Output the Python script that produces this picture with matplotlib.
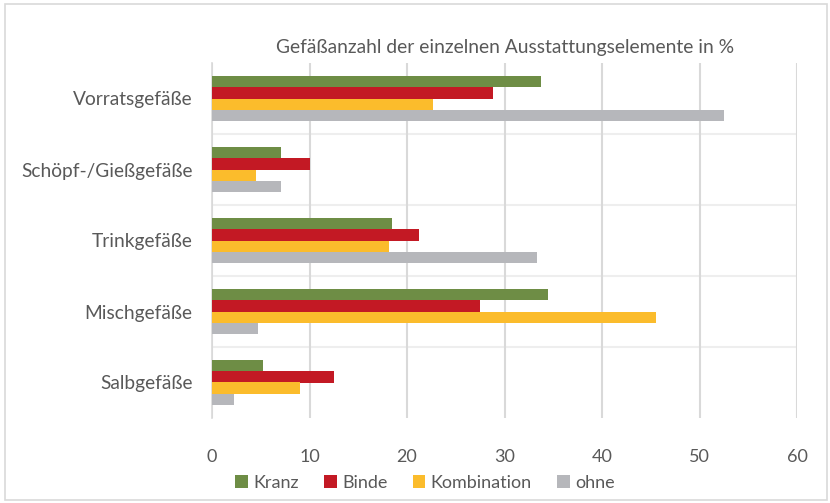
import matplotlib
matplotlib.use("Agg")
import numpy as np
import matplotlib.pyplot as plt
from matplotlib.patches import Rectangle

# data
categories = ["Vorratsgefäße", "Schöpf-/Gießgefäße", "Trinkgefäße", "Mischgefäße", "Salbgefäße"]
series_names = ["Kranz", "Binde", "Kombination", "ohne"]
kranz = [33.7, 7.05, 18.5, 34.5, 5.2]
binde = [28.8, 10.0, 21.2, 27.5, 12.5]
kombination = [22.7, 4.5, 18.2, 45.5, 9.0]
ohne = [52.5, 7.1, 33.3, 4.7, 2.3]
x_ticks = [0, 10, 20, 30, 40, 50, 60]
title = "Gefäßanzahl der einzelnen Ausstattungselemente in %"

colors = ["#6e8d45", "#c31924", "#fbbc2c", "#b6b7bb"]
text_col = "#595959"

plt.rcParams["font.family"] = ["Lato", "DejaVu Sans"]

fig = plt.figure(figsize=(8.30, 5.03), dpi=100)
ax = fig.add_axes([212 / 830, 1 - 418 / 503, (797 - 212) / 830, (418 - 63) / 503])

# figure frame
fig.patches.append(Rectangle((5 / 830, 3 / 503), 822 / 830, 496 / 503,
                             transform=fig.transFigure, fill=False,
                             edgecolor="#d9d9d9", linewidth=1.2))

y = np.arange(len(categories))
h = 0.155
all_series = [kranz, binde, kombination, ohne]
for i, (vals, name) in enumerate(zip(all_series, series_names)):
    ax.barh(y - 1.5 * h + i * h, vals, height=h, color=colors[i], label=name,
            zorder=3)

ax.set_xlim(0, 60)
ax.set_ylim(len(categories) - 0.5, -0.5)
ax.set_xticks(x_ticks)
ax.set_xticklabels([str(t) for t in x_ticks])
ax.set_yticks(y)
ax.set_yticklabels(categories)

ax.xaxis.grid(True, color="#d9d9d9", linewidth=1.5, zorder=0)
# category separators
for s in np.arange(len(categories) - 1) + 0.5:
    ax.axhline(s, color="#eeeeee", linewidth=1.5, zorder=1)

for sp in ["top", "right", "bottom"]:
    ax.spines[sp].set_visible(False)
ax.spines["left"].set_color("#d9d9d9")
ax.spines["left"].set_linewidth(1.2)

ax.tick_params(axis="x", length=0, labelsize=13, labelcolor=text_col, pad=22)
ax.tick_params(axis="y", length=0, labelsize=13.8, labelcolor=text_col, pad=14)

fig.text(505 / 830, 1 - 47 / 503, title, ha="center", va="center",
         fontsize=13.9, color=text_col)

leg = fig.legend(loc="center", bbox_to_anchor=(425 / 830, 1 - 483 / 503),
                 ncol=4, frameon=False, fontsize=13, handlelength=0.7,
                 handleheight=0.7, handletextpad=0.3, columnspacing=1.4)
for t in leg.get_texts():
    t.set_color(text_col)

fig.savefig("out.png", dpi=100)
